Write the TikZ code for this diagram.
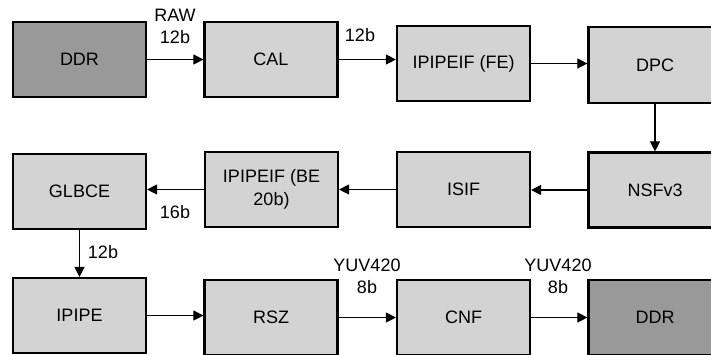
\documentclass[tikz,border=0pt]{standalone}
\usepackage{fontspec}
\setmainfont{Liberation Sans}
\usetikzlibrary{arrows.meta}
\definecolor{lightbox}{HTML}{D3D3D3}
\definecolor{darkbox}{HTML}{999999}
\begin{document}
\begin{tikzpicture}[x=1pt,y=-1pt,
  blk/.style={draw=black,line width=2.2pt,fill=lightbox,minimum width=133pt,minimum height=75pt,inner sep=0pt,font=\fontsize{18}{23}\selectfont,align=center},
  darkblk/.style={blk,fill=darkbox},
  arr/.style={line width=1.1pt,-{Triangle[length=10pt,width=10pt]}},
  lbl/.style={font=\fontsize{18}{22}\selectfont,align=center,inner sep=0pt}]
\path[use as bounding box] (0,0) rectangle (711,354);
\clip (0,0) rectangle (711,354);
% row 1
\node[darkblk] (ddr1) at (79.5,59.5) {DDR};
\node[blk] (cal) at (271,59.5) {CAL};
\node[blk] (fe) at (463.5,63.5) {IPIPEIF (FE)};
\node[blk,minimum height=76pt] (dpc) at (655,65) {DPC};
% row 2
\node[blk] (glbce) at (79.5,191.5) {GLBCE};
\node[blk] (be) at (271.5,189.5) {IPIPEIF (BE\\20b)};
\node[blk] (isif) at (463.5,189.5) {ISIF};
\node[blk] (nsf) at (655,190) {NSFv3};
% row 3
\node[blk] (ipipe) at (79.5,315.5) {IPIPE};
\node[blk] (rsz) at (271,317.5) {RSZ};
\node[blk] (cnf) at (463.5,317.5) {CNF};
\node[darkblk] (ddr2) at (655,317.5) {DDR};
% connectors
\draw[arr] (ddr1.east) -- (ddr1.east -| cal.west);
\draw[arr] (cal.east) -- (cal.east -| fe.west);
\draw[arr] (fe.east) -- (fe.east -| dpc.west);
\draw[arr] (dpc.south) -- (nsf.north);
\draw[arr] (nsf.west) -- (nsf.west -| isif.east);
\draw[arr] (isif.west) -- (isif.west -| be.east);
\draw[arr] (be.west) -- (be.west -| glbce.east);
\draw[arr] (glbce.south) -- (ipipe.north);
\draw[arr] (ipipe.east) -- (ipipe.east -| rsz.west);
\draw[arr] (rsz.east) -- (rsz.east -| cnf.west);
\draw[arr] (cnf.east) -- (cnf.east -| ddr2.west);
% labels
\node[lbl] (l1) at (175,26) {RAW\\12b};
\node[lbl] (l2) at (360,35) {12b};
\node[lbl] (l3) at (175,212) {16b};
\node[lbl] (l4) at (103,252) {12b};
\node[lbl] (l5) at (367,276) {YUV420\\8b};
\node[lbl] (l6) at (558,276) {YUV420\\8b};
\end{tikzpicture}
\end{document}
